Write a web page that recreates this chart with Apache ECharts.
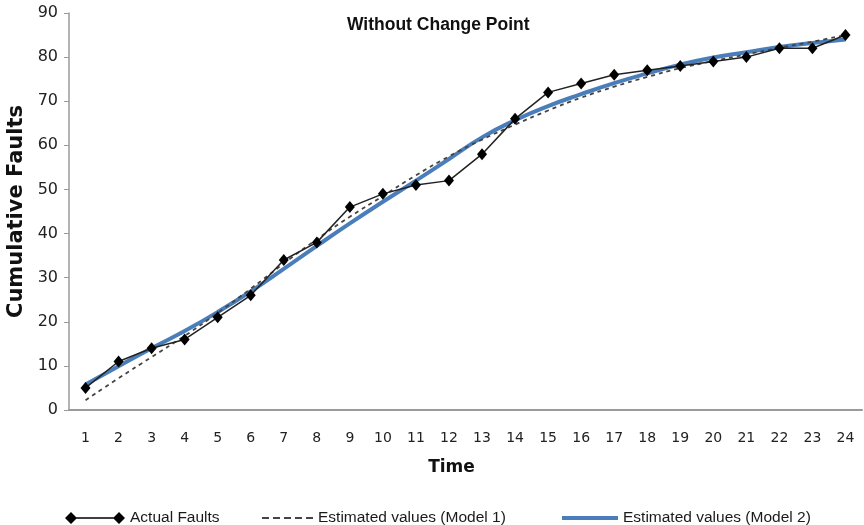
<!DOCTYPE html>
<html>
<head>
<meta charset="utf-8">
<script src="https://cdn.jsdelivr.net/npm/echarts@6/dist/echarts.min.js"></script>
<style>html,body{margin:0;padding:0;background:#fff;}#chart{width:864px;height:525px;}</style>
</head>
<body>
<div id="chart"></div>
<script>
var categories = ['1','2','3','4','5','6','7','8','9','10','11','12','13','14','15','16','17','18','19','20','21','22','23','24'];
var actualFaults = [5, 11, 14, 16, 21, 26, 34, 38, 46, 49, 51, 52, 58, 66, 72, 74, 76, 77, 78, 79, 80, 82, 82, 85];
var model1 = [2.2, 7.2, 12, 16.8, 22, 27.5, 33.2, 38.7, 43.8, 48.5, 53.2, 57.5, 61.3, 64.7, 67.9, 70.8, 73.3, 75.5, 77.5, 79.1, 80.6, 82.1, 83.5, 85];
var model2 = [5.8, 9.9, 14, 17.9, 22.2, 26.9, 32, 37.2, 42.3, 47.2, 52, 56.9, 61.8, 65.7, 68.9, 71.6, 74.1, 76.3, 78.3, 79.9, 81.1, 82.3, 83.2, 84];
var yTicks = {min: 0, max: 90, interval: 10};
var names = ['Actual Faults', 'Estimated values (Model 1)', 'Estimated values (Model 2)'];

var chart = echarts.init(document.getElementById('chart'));
var legendText = {fontFamily: 'Liberation Sans', fontSize: 15.5, color: '#1a1a1a', lineHeight: 20};
chart.setOption({
  animation: false,
  backgroundColor: '#fff',
  title: {
    text: 'Without Change Point',
    left: 342, top: 11,
    textStyle: {fontFamily: 'Liberation Sans', fontWeight: 'bold', fontSize: 17.5, color: '#111'}
  },
  grid: {left: 69, right: 2, top: 13, bottom: 115, containLabel: false, outerBoundsMode: 'none'},
  legend: [
    {data: [{name: names[0], icon: 'path://M0,6L6,0L12,6L6,12Z M6,5.2L54,5.2L54,6.8L6,6.8Z M48,6L54,0L60,6L54,12Z'}],
     left: 60, top: 503, itemWidth: 60, itemHeight: 12, textStyle: legendText},
    {data: [{name: names[1], icon: 'path://M0,0L7,0L7,2L0,2Z M11,0L18,0L18,2L11,2Z M22,0L29,0L29,2L22,2Z M33,0L40,0L40,2L33,2Z M44,0L51,0L51,2L44,2Z'}],
     left: 257, top: 503, itemWidth: 51, itemHeight: 2, textStyle: legendText},
    {data: [{name: names[2], icon: 'rect'}],
     left: 557, top: 503, itemWidth: 56, itemHeight: 4, textStyle: legendText}
  ],
  xAxis: {
    type: 'category',
    data: categories,
    boundaryGap: true,
    name: 'Time',
    nameLocation: 'middle',
    nameGap: 49,
    nameTextStyle: {fontFamily: 'DejaVu Sans', fontWeight: 'bold', fontSize: 17, color: '#111', padding: [0, 28, 0, 0]},
    axisLine: {lineStyle: {color: '#9a9a9a', width: 2}},
    axisTick: {show: false},
    axisLabel: {fontFamily: 'DejaVu Sans', fontSize: 14, color: '#222', margin: 21, interval: 0}
  },
  yAxis: {
    type: 'value',
    min: yTicks.min, max: yTicks.max, interval: yTicks.interval,
    name: 'Cumulative Faults',
    nameLocation: 'middle',
    nameGap: 42,
    nameTextStyle: {fontFamily: 'DejaVu Sans', fontWeight: 'bold', fontSize: 21, color: '#111'},
    axisLine: {show: true, lineStyle: {color: '#9a9a9a', width: 1.5}},
    axisTick: {show: true, length: 5, lineStyle: {color: '#9a9a9a'}},
    splitLine: {show: false},
    axisLabel: {fontFamily: 'DejaVu Sans', fontSize: 16, color: '#222', margin: 11}
  },
  series: [
    {name: names[0], type: 'line', data: actualFaults, z: 4,
     symbol: 'diamond', symbolSize: [10, 12],
     itemStyle: {color: '#000'}, lineStyle: {color: '#222', width: 1.5}},
    {name: names[1], type: 'line', data: model1, z: 3, symbol: 'none', smooth: true,
     itemStyle: {color: '#444'}, lineStyle: {color: '#444', width: 1.8, type: [4, 4]}},
    {name: names[2], type: 'line', data: model2, z: 2, symbol: 'none', smooth: true,
     itemStyle: {color: '#4a7ebb'}, lineStyle: {color: '#4a7ebb', width: 4}}
  ]
});
</script>
</body>
</html>
